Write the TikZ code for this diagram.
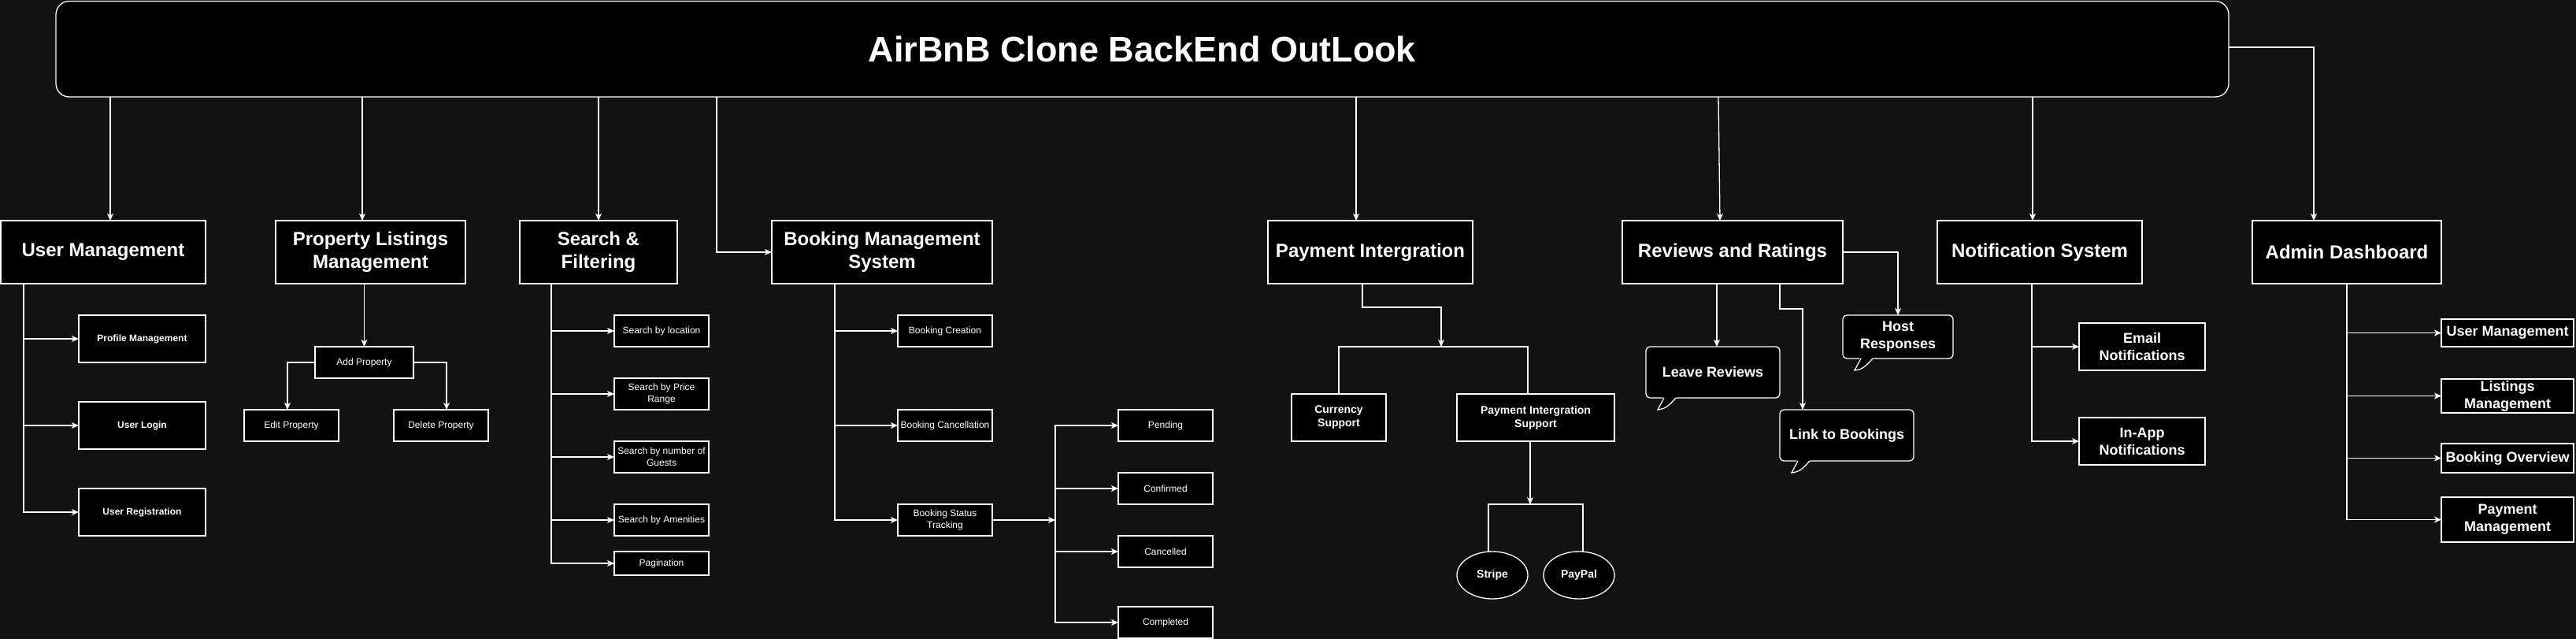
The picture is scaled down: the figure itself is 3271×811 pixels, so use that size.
\documentclass[tikz,border=0pt]{standalone}
\usepackage{fontspec}
\setmainfont{Liberation Sans}
\usetikzlibrary{arrows.meta,shapes.geometric}
\definecolor{bgc}{HTML}{121212}
\newcommand\mkbox[7]{\node[#2,minimum width={#5pt-#3pt},minimum height={#6pt-#4pt}] (#1) at ({(#3+#5)/2},{(#4+#6)/2}) {#7};}
\newcommand\mytail[1]{%
  \fill[black] ([xshift=22pt,yshift=1.2pt]#1.south west) -- ([xshift=15pt,yshift=-15pt]#1.south west) .. controls +(12pt,1pt) and +(-6pt,-6pt) .. ([xshift=39pt,yshift=1.2pt]#1.south west) -- cycle;
  \draw[white,line width=1.3pt] ([xshift=23pt]#1.south west) -- ([xshift=15pt,yshift=-15pt]#1.south west) .. controls +(12pt,1pt) and +(-6pt,-6pt) .. ([xshift=38pt]#1.south west);}
\begin{document}
\begin{tikzpicture}[x=1pt,y=-1pt,
  box/.style={draw=white,fill=black,line width=1.3pt,text=white,inner sep=1pt,outer sep=0pt,align=center},
  callout/.style={box,rounded corners=5pt},
  oval/.style={box,ellipse},
  titlef/.style={font=\fontsize{45}{50}\selectfont\bfseries},
  mainf/.style={font=\fontsize{24}{29}\selectfont\bfseries},
  smallf/.style={font=\fontsize{12}{15}\selectfont},
  smallbf/.style={font=\fontsize{12}{15}\selectfont\bfseries},
  midbf/.style={font=\fontsize{14}{17}\selectfont\bfseries},
  bigbf/.style={font=\fontsize{18}{22}\selectfont\bfseries},
  ln/.style={draw=white,line width=1.3pt},
  arr/.style={ln,-{Stealth[length=9pt,width=8pt,inset=2.5pt]}}]
\useasboundingbox (0,0) rectangle (3271,811);
\fill[bgc] (0,0) rectangle (3271,811);
% title
\mkbox{title}{box,rounded corners=17pt,titlef}{71}{1.5}{2830}{123}{AirBnB Clone BackEnd OutLook}
% main boxes
\mkbox{um}{box,mainf}{1}{280}{261}{360}{User Management}
\mkbox{prop}{box,mainf}{350}{280}{591}{360}{Property Listings\\Management}
\mkbox{search}{box,mainf}{660}{280}{860}{360}{Search \&\\Filtering}
\mkbox{booking}{box,mainf}{980}{280}{1260}{360}{Booking Management\\System}
\mkbox{payment}{box,mainf}{1610}{280}{1870}{360}{Payment Intergration}
\mkbox{reviews}{box,mainf}{2060}{280}{2340}{360}{Reviews and Ratings}
\mkbox{notif}{box,mainf}{2460}{280}{2720}{360}{Notification System}
\mkbox{admin}{box,mainf}{2860}{280}{3100}{360}{Admin Dashboard}
% user management
\mkbox{profile}{box,smallbf}{100}{400}{261}{460}{Profile Management}
\mkbox{login}{box,smallbf}{100}{510}{261}{570}{User Login}
\mkbox{reg}{box,smallbf}{100}{620}{261}{680}{User Registration}
% property
\mkbox{add}{box,smallf}{400}{440}{525}{480}{Add Property}
\mkbox{edit}{box,smallf}{310}{520}{430}{560}{Edit Property}
\mkbox{del}{box,smallf}{500}{520}{620}{560}{Delete Property}
% search
\mkbox{loc}{box,smallf}{780}{400}{900}{440}{Search by location}
\mkbox{price}{box,smallf}{780}{480}{900}{520}{Search by Price\\Range}
\mkbox{guests}{box,smallf}{780}{560}{900}{600}{Search by number of\\Guests}
\mkbox{amen}{box,smallf}{780}{640}{900}{680}{Search by Amenities}
\mkbox{pag}{box,smallf}{780}{700}{900}{730}{Pagination}
% booking
\mkbox{bcre}{box,smallf}{1140}{400}{1260}{440}{Booking Creation}
\mkbox{bcan}{box,smallf}{1140}{520}{1260}{560}{Booking Cancellation}
\mkbox{bstat}{box,smallf}{1140}{640}{1260}{680}{Booking Status\\Tracking}
\mkbox{pend}{box,smallf}{1420}{520}{1540}{560}{Pending}
\mkbox{conf}{box,smallf}{1420}{600}{1540}{640}{Confirmed}
\mkbox{canc}{box,smallf}{1420}{680}{1540}{720}{Cancelled}
\mkbox{comp}{box,smallf}{1420}{770}{1540}{810}{Completed}
% payment
\mkbox{cur}{box,midbf}{1640}{500}{1760}{560}{Currency\\Support}
\mkbox{pis}{box,midbf}{1850}{500}{2050}{560}{Payment Intergration\\Support}
\mkbox{stripe}{oval,midbf,inner sep=0pt}{1850}{700}{1940}{760}{Stripe}
\mkbox{paypal}{oval,midbf,inner sep=0pt}{1960}{700}{2050}{760}{PayPal}
% reviews
\mkbox{leave}{callout,bigbf}{2090}{440}{2260}{505}{Leave Reviews}
\mkbox{link}{callout,bigbf}{2260}{520}{2430}{585}{Link to Bookings}
\mkbox{host}{callout,bigbf}{2340}{400}{2480}{455}{Host\\Responses}
\mytail{leave}
\mytail{link}
\mytail{host}
% notification
\mkbox{email}{box,bigbf}{2640}{410}{2800}{470}{Email\\Notifications}
\mkbox{inapp}{box,bigbf}{2640}{530}{2800}{590}{In-App\\Notifications}
% admin
\mkbox{aum}{box,bigbf}{3100}{405}{3268}{440}{User Management}
\mkbox{alist}{box,bigbf}{3100}{481}{3268}{524}{Listings\\Management}
\mkbox{aover}{box,bigbf}{3100}{563}{3268}{600}{Booking Overview}
\mkbox{apay}{box,bigbf}{3100}{631}{3268}{688}{Payment\\Management}
% junction points
\coordinate (sj) at (1340,660);
\coordinate (pj) at (1830,440);
\coordinate (pj2) at (1943,640);
% connectors from title
\draw[arr] (title.south -| 140,0) -- (um.north -| 140,0);
\draw[arr] (title.south -| 460,0) -- (prop.north -| 460,0);
\draw[arr] (title.south -| 760,0) -- (search.north -| 760,0);
\draw[arr] (title.south -| 910,0) |- (booking.west);
\draw[arr] (title.south -| 1722,0) -- (payment.north -| 1722,0);
\draw[arr] (title.south -| 2182,0) -- (reviews.north -| 2184,0);
\draw[arr] (title.south -| 2581,0) -- (notif.north -| 2581,0);
\draw[arr] (title.east |- 0,60) -| (admin.north -| 2938,0);
% user management
\draw[arr] ([xshift=29pt]um.south west) |- (profile.west);
\draw[arr] ([xshift=29pt]um.south west) |- (login.west);
\draw[arr] ([xshift=29pt]um.south west) |- (reg.west);
% property
\draw[arr] (prop.south -| add.north) -- (add.north);
\draw[arr] (add.west) -| ([xshift=55pt]edit.north west);
\draw[arr] (add.east) -| ([xshift=67pt]del.north west);
% search
\draw[arr] ([xshift=40pt]search.south west) |- (loc.west);
\draw[arr] ([xshift=40pt]search.south west) |- (price.west);
\draw[arr] ([xshift=40pt]search.south west) |- (guests.west);
\draw[arr] ([xshift=40pt]search.south west) |- (amen.west);
\draw[arr] ([xshift=40pt]search.south west) |- (pag.west);
% booking
\draw[arr] ([xshift=80pt]booking.south west) |- (bcre.west);
\draw[arr] ([xshift=80pt]booking.south west) |- (bcan.west);
\draw[arr] ([xshift=80pt]booking.south west) |- (bstat.west);
\draw[arr] (bstat.east) -- (sj);
\draw[arr] (sj) |- (pend.west);
\draw[arr] (sj) |- (conf.west);
\draw[arr] (sj) |- (canc.west);
\draw[arr] (sj) |- (comp.west);
% payment
\draw[arr] ([xshift=120pt]payment.south west) -- ++(0,30) -| (pj);
\draw[ln] (cur.north) |- (pj) -| ([xshift=90pt]pis.north west);
\draw[arr] ([xshift=93pt]pis.south west) -- (pj2);
\draw[ln] ([xshift=-5pt]stripe.north) |- (pj2) -| ([xshift=5pt]paypal.north);
% reviews
\draw[arr] ([xshift=120pt]reviews.south west) -- ([xshift=90pt]leave.north west);
\draw[arr] ([xshift=200pt]reviews.south west) -- ++(0,32) -| ([xshift=29pt]link.north west);
\draw[arr] (reviews.east) -| (host.north);
% notification
\draw[arr] ([xshift=120pt]notif.south west) |- (email.west);
\draw[arr] ([xshift=120pt]notif.south west) |- (inapp.west);
% admin
\draw[arr] ([xshift=120pt]admin.south west) |- (aum.west);
\draw[arr] ([xshift=120pt]admin.south west) |- (alist.west);
\draw[arr] ([xshift=120pt]admin.south west) |- (aover.west);
\draw[arr] ([xshift=120pt]admin.south west) |- (apay.west);
\end{tikzpicture}
\end{document}
